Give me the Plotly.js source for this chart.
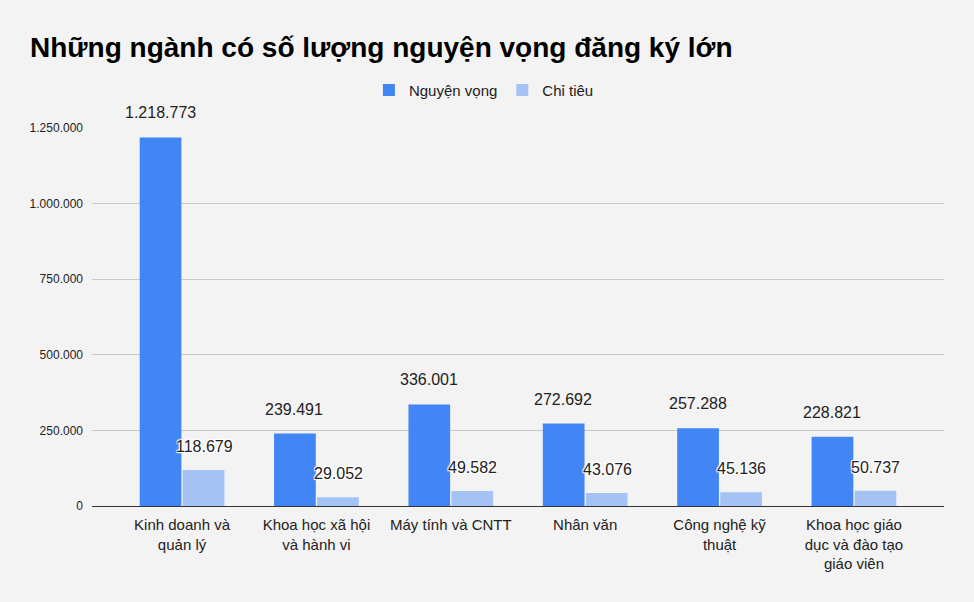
<!DOCTYPE html>
<html>
<head>
<meta charset="utf-8">
<script src="https://cdn.plot.ly/plotly-3.0.1.min.js"></script>
<style>
  html, body { margin: 0; padding: 0; background: #f3f3f3; }
  #chart { width: 974px; height: 602px; }
</style>
</head>
<body>
<div id="chart"></div>
<script>
const categories = [
  "Kinh doanh và<br>quản lý",
  "Khoa học xã hội<br>và hành vi",
  "Máy tính và CNTT",
  "Nhân văn",
  "Công nghệ kỹ<br>thuật",
  "Khoa học giáo<br>dục và đào tạo<br>giáo viên",
];
const nguyenVong = [1218773, 239491, 336001, 272692, 257288, 228821];
const chiTieu = [118679, 29052, 49582, 43076, 45136, 50737];
const yTicks = [0, 250000, 500000, 750000, 1000000, 1250000];

const FONT = "Arial, 'Liberation Sans', sans-serif";
const BLUE = "#4285f4";
const LIGHT = "#a4c2f4";

function fmt(v) {
  return v.toString().replace(/\B(?=(\d{3})+(?!\d))/g, ".");
}

const idx = categories.map((_, i) => i);

const traces = [
  {
    type: "bar", name: "Nguyện vọng", x: idx, y: nguyenVong,
    marker: { color: BLUE }, hoverinfo: "none",
  },
  {
    type: "bar", name: "Chỉ tiêu", x: idx, y: chiTieu,
    marker: { color: LIGHT }, hoverinfo: "none",
  },
];

const annotations = [];
idx.forEach((i) => {
  annotations.push({
    x: i, y: nguyenVong[i], xref: "x", yref: "y", xshift: -22, yshift: 14,
    yanchor: "bottom", text: fmt(nguyenVong[i]), showarrow: false,
    font: { family: FONT, size: 16, color: "#222" },
  });
  annotations.push({
    x: i, y: chiTieu[i], xref: "x", yref: "y", xshift: 22, yshift: 13,
    yanchor: "bottom", text: fmt(chiTieu[i]), showarrow: false,
    font: { family: FONT, size: 16, color: "#222", shadow: "1px 1px 1px #fff, -1px -1px 1px #fff, 1px -1px 1px #fff, -1px 1px 1px #fff" },
  });
});

const layout = {
  width: 974, height: 602,
  paper_bgcolor: "#f3f3f3", plot_bgcolor: "#f3f3f3",
  font: { family: FONT, color: "#222" },
  margin: { l: 92, r: 30, t: 128, b: 96 },
  title: {
    text: "<b>Những ngành có số lượng nguyện vọng đăng ký lớn</b>",
    xref: "container", x: 30 / 974, xanchor: "left",
    yref: "container", y: 1 - 47 / 602, yanchor: "middle",
    font: { family: "Arial, 'Liberation Sans', sans-serif", size: 28, color: "#000" },
  },
  showlegend: true,
  legend: {
    orientation: "h", x: 0.46, xanchor: "center", y: 1.1, yanchor: "middle",
    font: { family: FONT, size: 15, color: "#222" }, bgcolor: "rgba(0,0,0,0)",
    itemwidth: 30,
  },
  barmode: "group", bargap: 0.36, bargroupgap: 0.03,
  xaxis: {
    tickmode: "array", tickvals: idx, ticktext: categories,
    range: [-0.67, 5.67], showgrid: false, showline: false, zeroline: false,
    ticks: "", tickfont: { family: FONT, size: 15, color: "#222" },
    ticklabelstandoff: 8,
  },
  yaxis: {
    range: [0, 1250000], tickmode: "array", tickvals: yTicks,
    ticktext: yTicks.map(fmt), gridcolor: "#c8c8c8", gridwidth: 1,
    zeroline: true, zerolinecolor: "#333", zerolinewidth: 1,
    tickfont: { family: FONT, size: 12, color: "#222" }, ticklen: 0, ticks: "",
    ticklabelstandoff: 8,
  },
  annotations,
};

Plotly.newPlot("chart", traces, layout, { displayModeBar: false, staticPlot: true });
</script>
</body>
</html>
